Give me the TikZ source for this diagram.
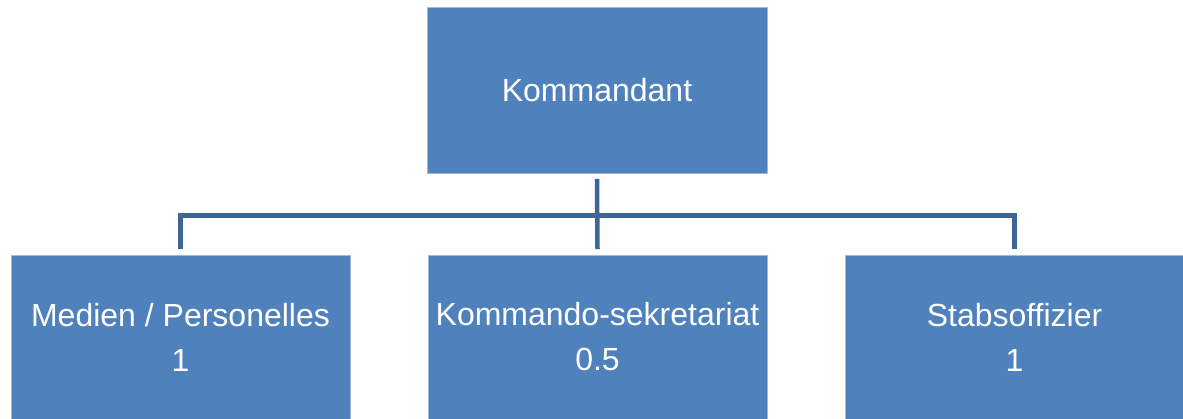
\documentclass[tikz,border=0pt]{standalone}
\usepackage{fontspec}
\setmainfont{Liberation Sans}
\definecolor{boxblue}{RGB}{79,129,189}
\definecolor{lineblue}{RGB}{61,102,150}
\tikzset{
  unit/.style={draw=boxblue!55!white, line width=0.8pt, fill=boxblue, text=white,
    align=center, inner sep=0pt, font=\fontsize{32}{45}\selectfont},
  conn/.style={draw=lineblue, line width=4.5pt}
}
\begin{document}
\begin{tikzpicture}[x=1pt,y=-1pt]
\useasboundingbox (0,0) rectangle (1183,419);
\node[unit, minimum width=340pt, minimum height=166pt] (kdt) at (597,90) {Kommandant};
\node[unit, minimum width=339pt, minimum height=164pt] (med) at (180.5,337) {Medien / Personelles\\1};
\node[unit, minimum width=339pt, minimum height=164pt] (sek) at (597.5,337) {Kommando-sekretariat\\0.5};
\node[unit, minimum width=338pt, minimum height=164pt] (stab) at (1014.5,337) {Stabsoffizier\\1};
\coordinate (bar) at (597.5,215.5);
\path[conn] ([yshift=-5.5pt]kdt.south) -- ([yshift=5.5pt]sek.north);
\path[conn] ([yshift=5.5pt]med.north) |- (bar) -| ([yshift=5.5pt]stab.north);
\end{tikzpicture}
\end{document}
